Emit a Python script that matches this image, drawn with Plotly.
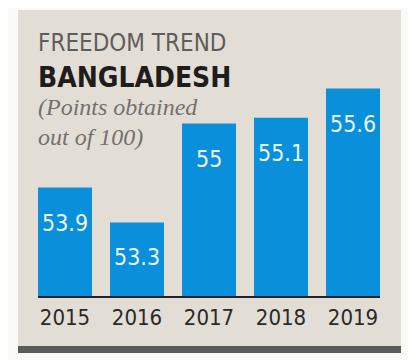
import plotly.graph_objects as go

years = ["2015", "2016", "2017", "2018", "2019"]
points = [53.9, 53.3, 55.0, 55.1, 55.6]
value_labels = ["53.9", "53.3", "55", "55.1", "55.6"]

title_line1 = "FREEDOM TREND"
title_line2 = "BANGLADESH"
sub_line1 = "(Points obtained"
sub_line2 = "out of 100)"

W, H = 416, 360
OFF = 8  # page body margin
L, R, T, B = 21, 35, 41, 71
PW, PH = W - L - R, H - T - B


def px(sx):
    return (sx - OFF - L) / PW


def py(sy):
    return (H - B - (sy - OFF)) / PH


COND = "DejaVu Sans Condensed, DejaVu Sans, sans-serif"
SERIF = "Liberation Serif, DejaVu Serif, serif"
BAR = "#0a8fda"

xpos = list(range(len(years)))

fig = go.Figure()
fig.add_trace(go.Bar(x=xpos, y=points, width=0.75,
                     marker=dict(color=BAR, line=dict(width=0)), hoverinfo="skip"))

for i, v, lab in zip(xpos, points, value_labels):
    fig.add_annotation(x=i, y=v, text=lab, showarrow=False, yshift=-35,
                       yanchor="middle", xanchor="center",
                       font=dict(family=COND, size=23, color="#eaf6fc"))

fig.add_annotation(xref="paper", yref="paper", x=px(36), y=py(43), text=title_line1,
                   showarrow=False, xanchor="left", yanchor="middle",
                   font=dict(family=COND, size=24, color="#5e5d5b"))
fig.add_annotation(xref="paper", yref="paper", x=px(36), y=py(77), text="<b>" + title_line2 + "</b>",
                   showarrow=False, xanchor="left", yanchor="middle",
                   font=dict(family=COND, size=28, color="#1f1d1c"))
fig.add_annotation(xref="paper", yref="paper", x=px(36), y=py(107), text="<i>" + sub_line1 + "</i>",
                   showarrow=False, xanchor="left", yanchor="middle",
                   font=dict(family=SERIF, size=24, color="#737070"))
fig.add_annotation(xref="paper", yref="paper", x=px(36), y=py(137), text="<i>" + sub_line2 + "</i>",
                   showarrow=False, xanchor="left", yanchor="middle",
                   font=dict(family=SERIF, size=24, color="#737070"))

shapes = [
    dict(type="rect", xref="paper", yref="paper", x0=px(18), x1=px(401), y0=py(346), y1=py(10),
         fillcolor="#e3ded5", line=dict(width=0), layer="below"),
    dict(type="rect", xref="paper", yref="paper", x0=px(18), x1=px(401), y0=py(353), y1=py(346),
         fillcolor="#5b5b5b", line=dict(width=0), layer="below"),
    dict(type="line", xref="paper", yref="paper", x0=px(409), x1=px(409), y0=py(368), y1=py(0),
         line=dict(color="#c4c4c4", width=1.5), layer="below"),
    dict(type="line", xref="paper", yref="paper", x0=px(38), x1=px(380), y0=0, y1=0,
         line=dict(color="#222222", width=2), layer="above"),
]

fig.update_layout(
    width=W, height=H,
    margin=dict(l=L, r=R, t=T, b=B, autoexpand=False),
    paper_bgcolor="#fafaf8",
    plot_bgcolor="rgba(0,0,0,0)",
    showlegend=False,
    shapes=shapes,
    xaxis=dict(range=[-0.5, 4.5], tickmode="array", tickvals=xpos, ticktext=years,
               showgrid=False, zeroline=False, showline=False, ticks="",
               automargin=False, ticklabelstandoff=5,
               tickfont=dict(family=COND, size=22, color="#2a2928")),
    yaxis=dict(range=[52.02, 56.28], showgrid=False, zeroline=False, showline=False,
               automargin=False, showticklabels=False, ticks=""),
)

fig.write_html("out.html")
